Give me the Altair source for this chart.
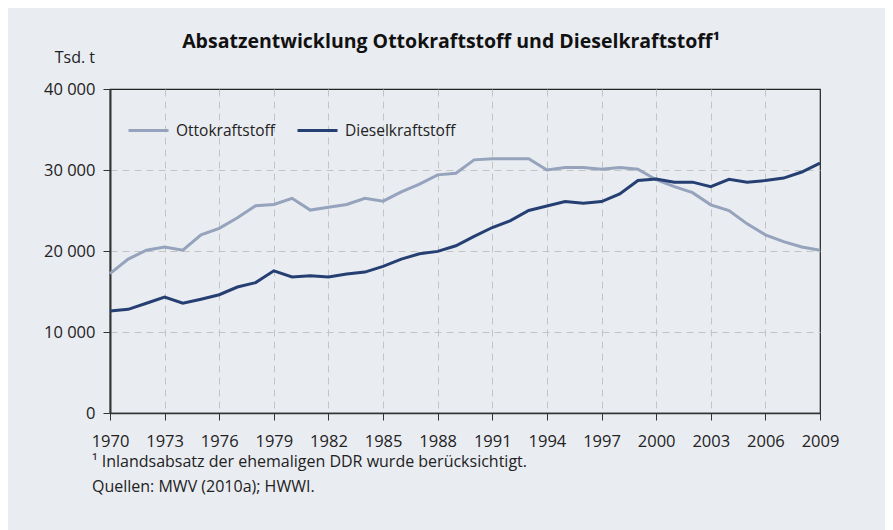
import altair as alt
import pandas as pd

years = list(range(1970, 2010))
otto = [17200, 19000, 20100, 20500, 20100, 22000, 22800, 24100, 25600, 25750,
        26500, 25050, 25400, 25750, 26500, 26150, 27300, 28250, 29400, 29600,
        31250, 31400, 31400, 31400, 30000, 30300, 30300, 30100, 30300, 30100,
        28800, 27950, 27200, 25700, 25000, 23350, 22000, 21150, 20500, 20100]
diesel = [12600, 12800, 13550, 14300, 13550, 14050, 14600, 15550, 16100, 17550,
          16800, 16950, 16800, 17150, 17400, 18100, 19000, 19650, 19950, 20650,
          21800, 22900, 23750, 25000, 25550, 26100, 25900, 26100, 27050, 28700,
          28900, 28500, 28500, 27950, 28850, 28500, 28700, 29000, 29750, 30850]
series_names = ["Ottokraftstoff", "Dieselkraftstoff"]
series_colors = ["#95A3BC", "#263F73"]
x_ticks = list(range(1970, 2010, 3))
y_ticks = [0, 10000, 20000, 30000, 40000]

title_text = "Absatzentwicklung Ottokraftstoff und Dieselkraftstoff¹"
unit_text = "Tsd. t"
foot1 = "¹ Inlandsabsatz der ehemaligen DDR wurde berücksichtigt."
foot2 = "Quellen: MWV (2010a); HWWI."

FONT = "Open Sans"

df = pd.DataFrame({
    "Jahr": years * 2,
    "Wert": otto + diesel,
    "Reihe": [series_names[0]] * len(years) + [series_names[1]] * len(years),
})

x = alt.X("Jahr:Q", scale=alt.Scale(domain=[1970, 2009], nice=False, zero=False),
          axis=alt.Axis(values=x_ticks, format="d", title=None, grid=True,
                        tickSize=7, labelPadding=13, labelFontSize=16.5,
                        labelFont=FONT, labelColor="#222", tickColor="#333",
                        domainColor="#333", domainWidth=1.5,
                        labelOverlap=False, labelFlush=False, labelBound=False,
                        gridOpacity={"condition": {"test": "datum.value == 1970 || datum.value == 2009", "value": 0}, "value": 1}))
y = alt.Y("Wert:Q", scale=alt.Scale(domain=[0, 40000], nice=False),
          axis=alt.Axis(values=y_ticks, title=None, grid=True, tickSize=7,
                        labelPadding=8, labelFontSize=16.5, labelFont=FONT,
                        labelColor="#222", tickColor="#333", domainColor="#333",
                        domainWidth=2, labelOverlap=False, labelFlush=False,
                        gridOpacity={"condition": {"test": "datum.value == 0 || datum.value == 40000", "value": 0}, "value": 1},
                        labelExpr="replace(format(datum.value, ','), ',', ' ')"))

lines = alt.Chart(df).mark_line(strokeWidth=3).encode(
    x=x, y=y,
    color=alt.Color("Reihe:N",
                    scale=alt.Scale(domain=series_names, range=series_colors),
                    legend=alt.Legend(title=None, orient="none", legendX=17,
                                      legendY=20, direction="horizontal",
                                      symbolType="stroke", symbolSize=1600,
                                      symbolStrokeWidth=3, labelFontSize=15.5,
                                      labelFont=FONT, labelColor="#222",
                                      columnPadding=16, labelOffset=6)),
    order=alt.Order("Jahr:Q"),
)

title = alt.Chart(pd.DataFrame({"t": [title_text]})).mark_text(
    font=FONT, fontSize=19.5, fontWeight="bold", color="#111", align="center",
    baseline="middle").encode(text="t:N", x=alt.value(341), y=alt.value(-47))
unit = alt.Chart(pd.DataFrame({"t": [unit_text]})).mark_text(
    font=FONT, fontSize=16, color="#222", align="right",
    baseline="middle").encode(text="t:N", x=alt.value(-15), y=alt.value(-31))
f1 = alt.Chart(pd.DataFrame({"t": [foot1]})).mark_text(
    font=FONT, fontSize=16, color="#222", align="left",
    baseline="middle").encode(text="t:N", x=alt.value(-18), y=alt.value(373))
f2 = alt.Chart(pd.DataFrame({"t": [foot2]})).mark_text(
    font=FONT, fontSize=16, color="#222", align="left",
    baseline="middle").encode(text="t:N", x=alt.value(-18), y=alt.value(398))

chart = alt.layer(lines, title, unit, f1, f2).properties(
    width=710, height=324,
    background="#E9ECF1",
    padding={"left": 102, "top": 81, "right": 65, "bottom": 125},
    autosize=alt.AutoSizeParams(type="none"),
).configure_view(stroke="#222", strokeWidth=1.2).configure_axis(
    gridColor="#C4C4C4", gridDash=[7, 5], gridWidth=1
)

chart.save("out.html", embed_options={"renderer": "svg", "actions": False})
